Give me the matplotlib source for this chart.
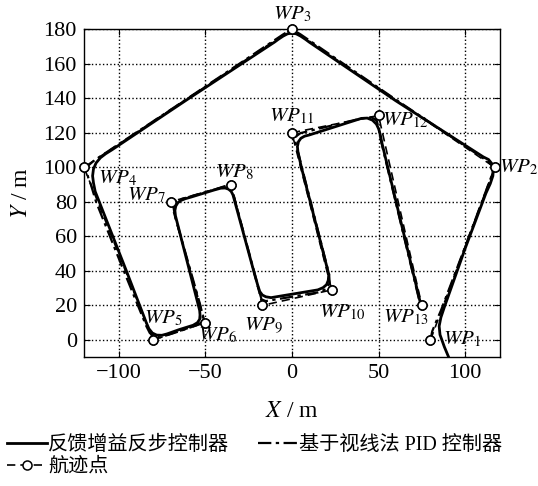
import numpy as np
import matplotlib
matplotlib.use("Agg")
import matplotlib.pyplot as plt

plt.rcParams['font.family'] = ['Liberation Serif', 'Noto Sans CJK SC']
plt.rcParams['mathtext.fontset'] = 'stix'

# waypoints WP1..WP13
wp_x = [80, 117, 0, -120, -80, -50, -70, -35, -17, 23, 0, 50, 75]
wp_y = [0, 100, 180, 100, 0, 10, 80, 90, 20, 29, 120, 130, 20]

# feedback-gain backstepping trajectory (solid)
bs_x = [90.5, 88, 85.5, 85, 86, 88, 100, 112, 114.5, 116, 116.3, 115.5, 113.5,
        110.5, 60, 10, 8, 5, 2.5, 0, -2.5, -5, -8, -10, -60, -104, -107.5,
        -110.5, -113, -114.5, -115, -114.5, -113.5, -95.5, -84, -82.5, -80.5,
        -78, -75, -72, -65, -57, -54.5, -53.2, -53, -53.2, -67.2, -67.5, -67,
        -65.8, -64, -61.5, -58, -45, -41, -38.5, -36.5, -35, -34, -33.3, -21.5,
        -19.5, -18.5, -17, -15, -12, 15, 18, 20, 21, 21.3, 5.5, 3.5, 3.2, 3.8,
        5.2, 7.3, 10, 40, 43.5, 46.5, 48.8, 50.2, 51.2, 52, 73.8]
bs_y = [-10, -4, 3, 8, 13, 19, 53, 85, 90.5, 95, 99, 102, 104.5,
        106, 138.5, 172.5, 174, 176, 177.3, 177.7, 177.3, 176, 174, 172.5,
        139.5, 110, 107.8, 105.5, 102.5, 99, 95, 91, 86, 40, 10, 6.5, 4,
        2.8, 2.7, 3.5, 6, 8.5, 10, 12, 14.5, 17, 72, 75, 77.5,
        79.5, 80.8, 81.8, 82.8, 86.8, 87.9, 88, 87.3, 86, 84, 81.5, 38,
        31, 28, 26, 25, 24.5, 29, 30.3, 32, 34.5, 38, 100, 109, 112, 114.8,
        116.8, 118, 118.7, 128.3, 128.5, 127.3, 125, 122, 118, 114, 23]

# LOS-based PID trajectory (dash-dot)
pid_x = [80, 81, 83, 86, 100, 113, 116, 115.5, 113, 60, 5, 2, 0, -2, -5, -60,
         -114, -117.5, -118.5, -117.5, -116, -113, -97, -84, -82, -79.5, -76,
         -65, -55, -51.5, -51.5, -52.8, -67.5, -68.5, -67, -64, -45, -38,
         -35.5, -34, -22, -18.5, -17.5, -15, 15, 20, 21.8, 21.5, 4.5, 2, 2.5,
         5, 40, 46, 49, 50, 51.5, 73.5, 74]
pid_y = [0, 5, 10, 17, 54, 89, 97, 101, 103.5, 139.2, 177, 178.8, 179.2,
         178.8, 177, 140, 104, 101, 98, 94, 90, 80, 40, 8, 4, 2, 1.5, 5, 8.5,
         10.5, 14, 20, 72, 78, 80.5, 81.5, 87, 89.3, 88, 85, 40.5, 27, 23.5,
         22.5, 27.5, 29.5, 33, 38, 105, 115, 118, 119.8, 128.3, 129, 127, 123,
         115, 23, 21]

labels = ['反馈增益反步控制器', '基于视线法 PID 控制器', '航迹点']

fig = plt.figure(figsize=(5.38, 4.86), dpi=100)
ax = fig.add_axes([0.156, 0.265, 0.773, 0.675])

h_wp, = ax.plot(wp_x, wp_y, color='black', ls=(0, (5, 3)), lw=1.2,
                marker='o', ms=6.5, mfc='white', mec='black', mew=1.1,
                clip_on=False, zorder=1.5)
ax.plot(wp_x, wp_y, ls='none', marker='o', ms=6.5, mfc='white', mec='black',
        mew=1.1, clip_on=False, zorder=4)
h_bs, = ax.plot(bs_x, bs_y, color='black', lw=2.0, zorder=3)
h_pid, = ax.plot(pid_x, pid_y, color='black', lw=1.6,
                 ls=(0, (6, 2, 1.5, 2)), zorder=2)

# waypoint labels: offsets in pixels (dx, dy, ha)
offs = [(13, 0, 'left'), (4, 0, 'left'), (0, 15, 'center'),
        (14, -11, 'left'), (-9, 21, 'left'), (-7, -13, 'left'),
        (-5, 6, 'right'), (-16, 12, 'left'), (-18, -20, 'left'),
        (-13, -23, 'left'), (-23, 16, 'left'), (3, -5, 'left'),
        (-39, -12, 'left')]
for i, (x, y) in enumerate(zip(wp_x, wp_y)):
    dx, dy, ha = offs[i]
    ax.annotate(r'$WP_{\mathrm{%d}}$' % (i + 1), (x, y), xytext=(dx, dy),
                textcoords='offset pixels', ha=ha, va='center',
                fontsize=15, annotation_clip=False, zorder=5)

ax.set_xlim(-120, 120)
ax.set_ylim(-10, 180)
ax.set_xticks([-100, -50, 0, 50, 100])
ax.set_yticks(np.arange(0, 181, 20))
ax.set_xticklabels(['\u2212100', '\u221250', '0', '50', '100'])
ax.tick_params(direction='in', top=True, right=True, labelsize=16,
               length=4, width=0.8, pad=5)
ax.grid(True, ls=':', color='black', lw=1.0)
for s in ax.spines.values():
    s.set_linewidth(1.0)

ax.set_xlabel(r'$X$ / m', fontsize=17, labelpad=13)
ax.set_ylabel(r'$Y$ / m', fontsize=17, labelpad=8)

fig.legend([h_bs, h_wp, h_pid], [labels[0], labels[2], labels[1]],
           loc='upper left', bbox_to_anchor=(-0.002, 0.12), ncol=2,
           frameon=False, fontsize=14.5, handlelength=2.0, handletextpad=0.05,
           columnspacing=1.4, labelspacing=0.15, borderaxespad=0)

fig.savefig('out.png', dpi=100)
